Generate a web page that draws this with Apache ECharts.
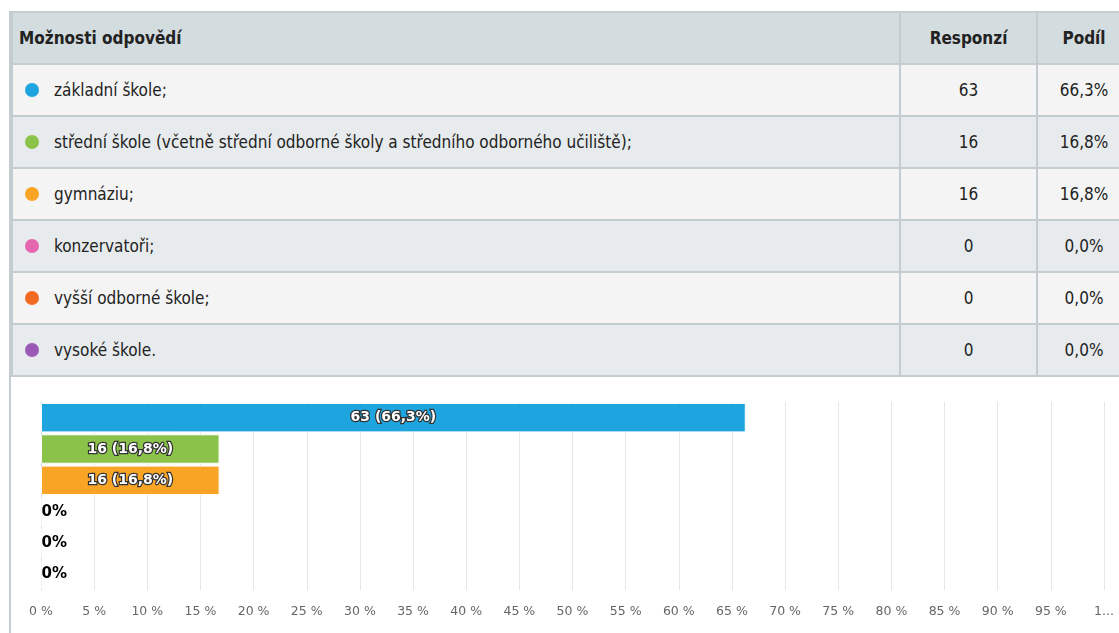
<!DOCTYPE html>
<html>
<head>
<meta charset="utf-8">
<script src="https://cdn.jsdelivr.net/npm/echarts@6/dist/echarts.min.js"></script>
<style>
  html, body { margin: 0; padding: 0; background: #fff; overflow: hidden; width: 1119px; height: 633px; }
  #wrap { position: absolute; left: 9px; top: 11px; width: 1125px; height: 640px;
    border-left: 2px solid #c3ccd0; }
  table { border-collapse: collapse; width: 1119px; table-layout: fixed;
    font-family: "DejaVu Sans Condensed", sans-serif; color: #222; }
  td, th { border: 2px solid #c3ccd0; height: 50px; padding: 0; font-size: 17px; }
  th { background: #d3dcdf; font-weight: bold; font-size: 17px; height: 50px; }
  th.name { text-align: left; padding-left: 6px; }
  td.name { text-align: left; padding-left: 12px; }
  td.num, th.num { text-align: center; }
  tr.odd td { background: #f4f4f4; }
  tr.even td { background: #e7ebed; }
  .dot { display: inline-block; width: 14px; height: 14px; border-radius: 50%;
    vertical-align: -1px; margin-right: 15px; }
  #chart { position: absolute; left: 0; top: 378px; width: 1119px; height: 255px; }
</style>
</head>
<body>
<div id="wrap">
  <table id="tbl"></table>
</div>
<div id="chart"></div>
<script>
var headers = ['Možnosti odpovědí', 'Responzí', 'Podíl'];
var categories = ['základní škole;',
  'střední škole (včetně střední odborné školy a středního odborného učiliště);',
  'gymnáziu;', 'konzervatoři;', 'vyšší odborné škole;', 'vysoké škole.'];
var counts = [63, 16, 16, 0, 0, 0];
var shares = [66.3, 16.8, 16.8, 0, 0, 0];
var colors = ['#1ea4de', '#8bc34a', '#f9a424', '#e667af', '#f26a21', '#9b59b6'];

function fmt(v) {
  return v.toFixed(1).replace('.', ',');
}

// tabulka nahore
var html = '<colgroup><col style="width:888px"><col style="width:137px"><col style="width:94px"></colgroup>';
html += '<tr><th class="name">' + headers[0] + '</th><th class="num">' + headers[1] +
  '</th><th class="num">' + headers[2] + '</th></tr>';
categories.forEach(function (c, i) {
  html += '<tr class="' + (i % 2 ? 'even' : 'odd') + '"><td class="name"><span class="dot" style="background:' +
    colors[i] + '"></span>' + c + '</td><td class="num">' + counts[i] +
    '</td><td class="num">' + fmt(shares[i]) + '%</td></tr>';
});
document.getElementById('tbl').innerHTML = html;

var myChart = echarts.init(document.getElementById('chart'));

var option = {
  animation: false,
  grid: {
    left: 41,
    right: 15,
    top: 24,
    bottom: 43
  },
  xAxis: {
    type: 'value',
    min: 0,
    max: 100,
    interval: 5,
    axisLine: { show: false },
    axisTick: { show: false },
    splitLine: { lineStyle: { color: '#e6e6e6', width: 1 } },
    axisLabel: {
      color: '#666',
      fontSize: 12.5,
      fontFamily: 'DejaVu Sans',
      margin: 15,
      formatter: function (v) {
        return v === 100 ? '1...' : v + ' %';
      }
    }
  },
  yAxis: {
    type: 'category',
    inverse: true,
    data: categories,
    axisLine: { show: true, lineStyle: { color: '#ccd6eb' } },
    axisTick: { show: false },
    axisLabel: { show: false }
  },
  series: [{
    type: 'bar',
    barCategoryGap: '6%',
    data: shares.map(function (v, i) {
      var zero = counts[i] === 0;
      return {
        value: v,
        itemStyle: { color: colors[i], borderColor: '#fff', borderWidth: 1, borderRadius: 1 },
        label: zero ? {
          position: 'right',
          distance: 0,
          color: '#000',
          fontSize: 15,
          textBorderWidth: 0
        } : {}
      };
    }),
    label: {
      show: true,
      position: 'inside',
      fontFamily: 'DejaVu Sans',
      fontWeight: 'bold',
      fontSize: 14,
      color: '#fff',
      textBorderColor: '#333',
      textBorderWidth: 2.5,
      formatter: function (p) {
        var i = p.dataIndex;
        return counts[i] === 0 ? '0%' : counts[i] + ' (' + fmt(shares[i]) + '%)';
      }
    }
  }]
};

myChart.setOption(option);
</script>
</body>
</html>
